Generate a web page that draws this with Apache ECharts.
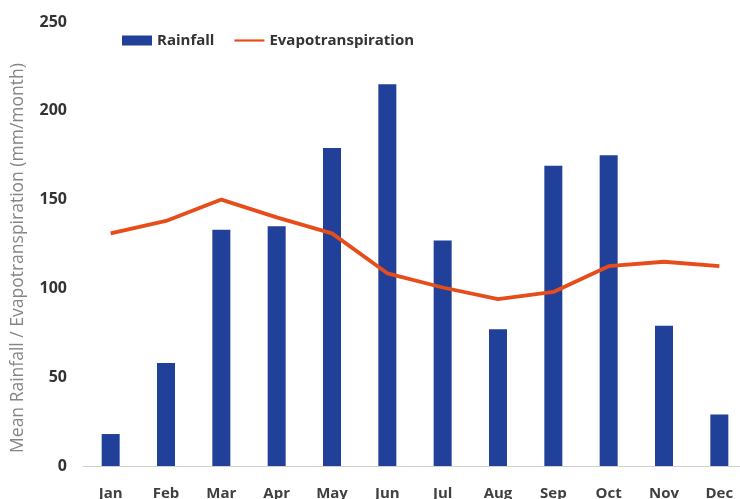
<!DOCTYPE html>
<html><head><meta charset="utf-8">
<script src="https://cdn.jsdelivr.net/npm/echarts@6/dist/echarts.min.js"></script>
<style>html,body{margin:0;padding:0;background:#fff}#c{width:740px;height:499px}</style>
</head><body><div id="c"></div>
<script>
const months = ["Jan","Feb","Mar","Apr","May","Jun","Jul","Aug","Sep","Oct","Nov","Dec"];
const rainfall = [18, 58, 133, 135, 179, 215, 127, 77, 169, 175, 79, 29];
const evapotranspiration = [131, 138, 150, 140, 131, 108.5, 100.5, 94, 98, 112.5, 115, 112.5];
const yTicks = [0, 50, 100, 150, 200, 250];

const chart = echarts.init(document.getElementById('c'), null, {renderer: 'canvas'});
chart.setOption({
  animation: false,
  textStyle: {fontFamily: 'Open Sans, sans-serif'},
  legend: {
    top: 28, left: 117,
    itemWidth: 30, itemHeight: 10, itemGap: 20,
    textStyle: {fontSize: 15, fontWeight: 'bold', color: '#333', fontFamily: 'Open Sans'},
    data: [
      {name: 'Rainfall', icon: 'rect'},
      {name: 'Evapotranspiration', icon: 'path://M0,4 L30,4 L30,6.2 L0,6.2 Z'}
    ]
  },
  grid: {left: 83, width: 664, top: 22, bottom: 33, containLabel: false, outerBoundsMode: 'none'},
  xAxis: {
    type: 'category', data: months,
    axisLine: {lineStyle: {color: '#d0d0d0', width: 1}},
    axisTick: {show: false},
    axisLabel: {fontSize: 15, fontWeight: 'bold', color: '#404040', margin: 20, fontFamily: 'Open Sans'}
  },
  yAxis: {
    type: 'value', min: yTicks[0], max: yTicks[yTicks.length-1], interval: 50,
    name: 'Mean Rainfall / Evapotranspiration (mm/month)',
    nameLocation: 'middle', nameGap: 56, nameRotate: 90,
    nameTextStyle: {fontSize: 17.5, color: '#858585', fontFamily: 'Open Sans', padding: [0, 28, 0, 0]},
    axisLine: {show: false}, axisTick: {show: false},
    splitLine: {show: false},
    axisLabel: {fontSize: 16, fontWeight: 'bold', color: '#333', margin: 16, fontFamily: 'Open Sans'}
  },
  series: [
    {name: 'Rainfall', type: 'bar', data: rainfall, barWidth: 18,
     itemStyle: {color: '#21409a'}},
    {name: 'Evapotranspiration', type: 'line', data: evapotranspiration,
     symbol: 'none', lineStyle: {color: '#e64d1a', width: 3.8}, itemStyle: {color: '#e64d1a'}}
  ]
});
</script></body></html>
